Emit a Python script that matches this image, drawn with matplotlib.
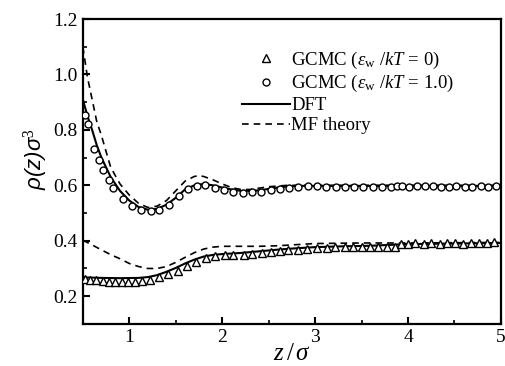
import matplotlib
matplotlib.use("Agg")
import matplotlib.pyplot as plt
from matplotlib.ticker import MultipleLocator, FormatStrFormatter

plt.rcParams['font.family'] = 'Liberation Serif'
plt.rcParams['mathtext.fontset'] = 'custom'
plt.rcParams['mathtext.rm'] = 'Liberation Serif'
plt.rcParams['mathtext.it'] = 'Liberation Serif:italic'
plt.rcParams['mathtext.sf'] = 'Liberation Sans:italic'

# GCMC, eps_w/kT = 1.0 (circles)
z_circ = [0.52, 0.56, 0.62, 0.67, 0.72, 0.78, 0.83, 0.93, 1.03, 1.13,
          1.23, 1.32, 1.43, 1.53, 1.63, 1.73, 1.82, 1.92, 2.02, 2.12,
          2.22, 2.32, 2.42, 2.52, 2.62, 2.72, 2.82, 2.92, 3.02, 3.12,
          3.22, 3.32, 3.42, 3.52, 3.62, 3.72, 3.82, 3.88, 3.93, 4.01,
          4.10, 4.18, 4.27, 4.35, 4.44, 4.52, 4.61, 4.69, 4.78, 4.86,
          4.95]
rho_circ = [0.855, 0.82, 0.73, 0.692, 0.655, 0.62, 0.592, 0.552, 0.527, 0.51,
            0.506, 0.512, 0.528, 0.56, 0.588, 0.599, 0.601, 0.59, 0.584, 0.577,
            0.572, 0.575, 0.577, 0.582, 0.587, 0.59, 0.594, 0.596, 0.596, 0.594,
            0.594, 0.594, 0.593, 0.594, 0.594, 0.595, 0.595, 0.598, 0.597, 0.595,
            0.596, 0.598, 0.596, 0.594, 0.595, 0.596, 0.594, 0.595, 0.596, 0.595,
            0.596]

# GCMC, eps_w/kT = 0 (triangles)
z_tri = [0.52, 0.58, 0.645, 0.715, 0.785, 0.85, 0.92, 0.99, 1.065, 1.135,
         1.225, 1.325, 1.42, 1.52, 1.62, 1.72, 1.83, 1.925, 2.03, 2.12,
         2.23, 2.32, 2.43, 2.52, 2.62, 2.71, 2.82, 2.91, 3.02, 3.13,
         3.21, 3.32, 3.41, 3.5, 3.59, 3.68, 3.77, 3.86, 3.92, 4.0,
         4.08, 4.17, 4.25, 4.34, 4.42, 4.51, 4.59, 4.68, 4.76, 4.85,
         4.93]
rho_tri = [0.263, 0.26, 0.258, 0.254, 0.252, 0.252, 0.252, 0.252, 0.252, 0.254,
           0.26, 0.27, 0.28, 0.29, 0.308, 0.322, 0.338, 0.344, 0.347, 0.35,
           0.35, 0.354, 0.356, 0.358, 0.362, 0.366, 0.368, 0.37, 0.374, 0.374,
           0.376, 0.378, 0.377, 0.378, 0.377, 0.378, 0.378, 0.378, 0.39, 0.39,
           0.391, 0.39, 0.392, 0.39, 0.391, 0.392, 0.39, 0.392, 0.391, 0.393,
           0.394]

# DFT curves
z_dft_hi = [0.5, 0.55, 0.6, 0.65, 0.7, 0.8, 0.9, 1.0, 1.1, 1.2, 1.3, 1.4, 1.5,
            1.6, 1.7, 1.8, 1.9, 2.0, 2.1, 2.2, 2.3, 2.4, 2.5, 2.6, 2.7, 2.8,
            3.0, 3.5, 4.0, 5.0]
rho_dft_hi = [0.91, 0.85, 0.80, 0.745, 0.70, 0.63, 0.58, 0.545, 0.522, 0.512,
              0.515, 0.53, 0.555, 0.585, 0.60, 0.605, 0.60, 0.592, 0.585, 0.58,
              0.58, 0.582, 0.587, 0.592, 0.596, 0.598, 0.598, 0.598, 0.598, 0.598]
z_dft_lo = [0.5, 0.7, 0.9, 1.1, 1.2, 1.3, 1.4, 1.5, 1.6, 1.7, 1.8, 1.9, 2.0,
            2.2, 2.4, 2.6, 2.8, 3.0, 3.3, 3.6, 4.0, 4.5, 5.0]
rho_dft_lo = [0.268, 0.266, 0.265, 0.266, 0.269, 0.276, 0.288, 0.302, 0.318,
              0.332, 0.343, 0.349, 0.352, 0.356, 0.362, 0.368, 0.373, 0.377,
              0.38, 0.382, 0.388, 0.39, 0.392]

# MF theory curves
z_mf_hi = [0.5, 0.55, 0.6, 0.65, 0.7, 0.8, 0.9, 1.0, 1.1, 1.2, 1.3, 1.4, 1.5,
           1.6, 1.7, 1.75, 1.8, 1.9, 2.0, 2.1, 2.2, 2.3, 2.4, 2.5, 2.7, 3.0, 5.0]
rho_mf_hi = [1.10, 0.99, 0.91, 0.83, 0.78, 0.665, 0.605, 0.565, 0.535, 0.52,
             0.525, 0.545, 0.58, 0.615, 0.632, 0.635, 0.632, 0.62, 0.605, 0.592,
             0.585, 0.585, 0.59, 0.595, 0.6, 0.6, 0.6]
z_mf_lo = [0.5, 0.6, 0.7, 0.8, 0.9, 1.0, 1.1, 1.2, 1.3, 1.4, 1.5, 1.6, 1.7,
           1.8, 1.9, 2.0, 2.2, 2.4, 2.6, 2.8, 3.0, 3.5, 4.0, 5.0]
rho_mf_lo = [0.402, 0.385, 0.367, 0.35, 0.335, 0.318, 0.307, 0.30, 0.30, 0.307,
             0.322, 0.34, 0.357, 0.37, 0.377, 0.38, 0.38, 0.38, 0.382, 0.386,
             0.39, 0.392, 0.392, 0.394]

fig = plt.figure(figsize=(5.05, 3.66), dpi=100)
ax = fig.add_axes([0.164, 0.115, 0.828, 0.833])

ax.plot(z_tri, rho_tri, linestyle='none', marker='^', ms=6, mfc='white',
        mec='black', mew=1.0, label=r'GCMC ($\varepsilon_{\rm w}$ /$kT$ = 0)', zorder=3)
ax.plot(z_circ, rho_circ, linestyle='none', marker='o', ms=5, mfc='white',
        mec='black', mew=1.0, label=r'GCMC ($\varepsilon_{\rm w}$ /$kT$ = 1.0)', zorder=3)
ax.plot(z_dft_hi, rho_dft_hi, 'k-', lw=1.5, label='DFT')
ax.plot(z_dft_lo, rho_dft_lo, 'k-', lw=1.5)
ax.plot(z_mf_hi, rho_mf_hi, 'k--', lw=1.2, dashes=(4, 3), label='MF theory')
ax.plot(z_mf_lo, rho_mf_lo, 'k--', lw=1.2, dashes=(4, 3))

ax.set_xlim(0.5, 5.0)
ax.set_ylim(0.1, 1.2)
ax.xaxis.set_major_locator(MultipleLocator(1))
ax.xaxis.set_minor_locator(MultipleLocator(0.5))
ax.yaxis.set_major_locator(MultipleLocator(0.2))
ax.yaxis.set_minor_locator(MultipleLocator(0.1))
ax.yaxis.set_major_formatter(FormatStrFormatter('%.1f'))
ax.tick_params(which='both', direction='in', top=False, right=False, labelsize=14)
ax.tick_params(which='major', length=5, width=1.5)
ax.tick_params(which='minor', length=3, width=1.2)
for sp in ax.spines.values():
    sp.set_linewidth(1.6)

ax.set_xlabel(r'$z\,/\,\sigma$', fontsize=18, labelpad=-2)
ax.set_ylabel(r'$\mathsf{\rho(z)\sigma}^{\mathrm{3}}$', fontsize=16)
ax.yaxis.set_label_coords(-0.078, 0.54)

ax.legend(loc='upper left', bbox_to_anchor=(0.362, 0.925), frameon=False,
          fontsize=13.5, handlelength=2.6, handletextpad=0.05, labelspacing=0.15,
          borderaxespad=0)

fig.savefig('out.png', dpi=100)
